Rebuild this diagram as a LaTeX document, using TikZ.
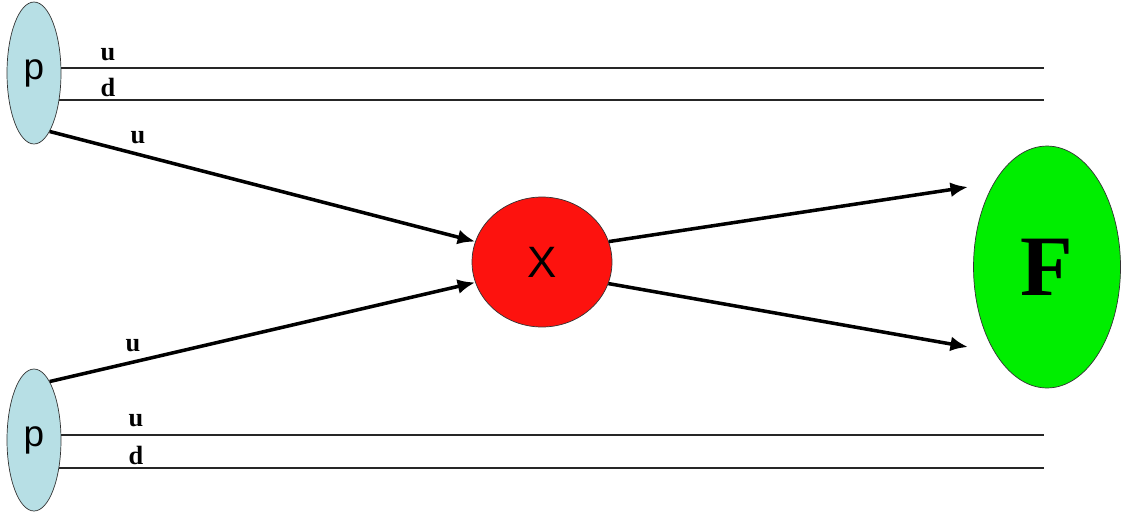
\documentclass[tikz,border=0pt]{standalone}
\usepackage{fontspec}
\setmainfont{Liberation Serif}
\newfontfamily\sansfnt{Liberation Sans}
\usepackage{xcolor}
\usepackage{tikz}
\usetikzlibrary{arrows.meta,shapes}

\definecolor{protonblue}{RGB}{183,223,229}
\definecolor{blobred}{RGB}{253,18,14}
\definecolor{blobgreen}{RGB}{0,238,0}

\pgfdeclarelayer{background}
\pgfsetlayers{background,main}

\begin{document}
\begin{tikzpicture}[x=0.02cm, y=0.02cm,
    proton/.style={ellipse, draw=black!80, fill=protonblue, inner sep=0pt,
      minimum width=1.08cm, minimum height=2.84cm,
      font=\sansfnt\fontsize{21}{21}\selectfont},
    quark/.style={inner sep=0pt, font=\bfseries\fontsize{15}{15}\selectfont},
    parton/.style={line width=2pt, -{Latex[length=10pt,width=8.5pt]}},
    spectator/.style={line width=0.6pt, black!85}]
\useasboundingbox (0,0) rectangle (1121,512);

% the two incoming protons
\node[proton] (pTop) at (34,439) {p};
\node[proton] (pBot) at (34,72) {p};

% hard scattering and final state
\node[ellipse, draw=black!80, fill=blobred, inner sep=0pt,
  minimum width=2.8cm, minimum height=2.6cm,
  font=\sansfnt\fontsize{25}{25}\selectfont] (X) at (542,250) {X};
\node[ellipse, draw=black!80, fill=blobgreen, inner sep=0pt,
  minimum width=2.94cm, minimum height=4.84cm,
  font=\bfseries\fontsize{49}{49}\selectfont] (F) at (1047,245) {F};

% spectator quarks run straight through
\coordinate (uEndTop) at (1044,444);
\coordinate (dEndTop) at (1044,412);
\coordinate (uEndBot) at (1044,77);
\coordinate (dEndBot) at (1044,44);
\begin{pgfonlayer}{background}
\foreach \e in {uEndTop,dEndTop}
  \draw[spectator] (pTop.center |- \e) -- (\e);
\foreach \e in {uEndBot,dEndBot}
  \draw[spectator] (pBot.center |- \e) -- (\e);
\end{pgfonlayer}
\node[quark] (uTop) at (108,457) {u};
\node[quark] (dTop) at (108,425) {d};
\node[quark] (uBot) at (136,91) {u};
\node[quark] (dBot) at (136,57) {d};

% partons into X, products out
\coordinate (fTop) at (968,325);
\coordinate (fBot) at (968,165);
\draw[parton] (pTop.-75) -- (X.163);
\draw[parton] (pBot.75) -- (X.197);
\draw[parton] (X.17) -- (fTop);
\draw[parton] (X.-18) -- (fBot);
\node[quark] (uInTop) at (138,374) {u};
\node[quark] (uInBot) at (133,166) {u};
\end{tikzpicture}
\end{document}
